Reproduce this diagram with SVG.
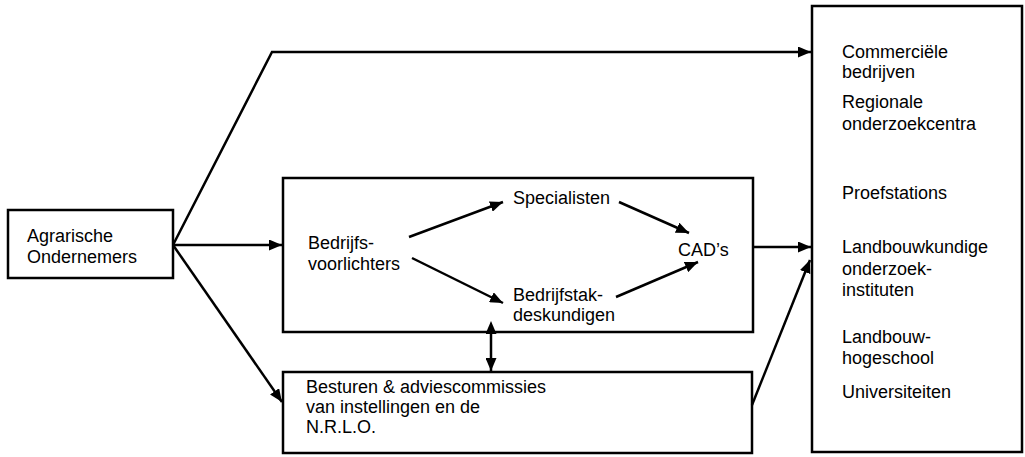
<svg xmlns="http://www.w3.org/2000/svg" width="1025" height="457" viewBox="0 0 1025 457">
<defs>
<marker id="ah" viewBox="0 0 13 11" refX="13" refY="5.5" markerWidth="13" markerHeight="11" markerUnits="userSpaceOnUse" orient="auto">
<path d="M0,0 L13,5.5 L0,11 z" fill="#000"/>
</marker>
<marker id="ahs" viewBox="0 0 13 11" refX="0" refY="5.5" markerWidth="13" markerHeight="11" markerUnits="userSpaceOnUse" orient="auto-start-reverse">
<path d="M0,0 L13,5.5 L0,11 z" fill="#000"/>
</marker>
</defs>
<style>
.box{fill:#fff;stroke:#000;stroke-width:2.5}
.t{font-family:"Liberation Sans",Arial,sans-serif;font-size:18px;fill:#000}
.c{fill:none;stroke:#000;stroke-width:2.5}
</style>
<rect width="1025" height="457" fill="#fff"/>
<g id="agrarische">
<rect class="box" x="8" y="210" width="165" height="68"/>
<text class="t" x="27" y="242">Agrarische</text>
<text class="t" x="27" y="263">Ondernemers</text>
</g>
<g id="voorlichting">
<rect class="box" x="283" y="178" width="470" height="154"/>
<text class="t" x="308" y="249">Bedrijfs-</text>
<text class="t" x="308" y="270">voorlichters</text>
</g>
<g id="specialisten"><text class="t" x="513" y="204">Specialisten</text></g>
<g id="bedrijfstak">
<text class="t" x="513" y="301">Bedrijfstak-</text>
<text class="t" x="513" y="321">deskundigen</text>
</g>
<g id="cads"><text class="t" x="678" y="256">CAD’s</text></g>
<g id="besturen">
<rect class="box" x="283" y="372" width="469" height="81"/>
<text class="t" x="306" y="393">Besturen &amp; adviescommissies</text>
<text class="t" x="306" y="413">van instellingen en de</text>
<text class="t" x="306" y="433">N.R.L.O.</text>
</g>
<g id="onderzoek">
<rect class="box" x="812" y="6" width="210" height="446"/>
<text class="t" x="842" y="58">Commerciële</text>
<text class="t" x="842" y="78">bedrijven</text>
<text class="t" x="842" y="108">Regionale</text>
<text class="t" x="842" y="130">onderzoekcentra</text>
<text class="t" x="842" y="199">Proefstations</text>
<text class="t" x="842" y="253">Landbouwkundige</text>
<text class="t" x="842" y="275">onderzoek-</text>
<text class="t" x="842" y="296">instituten</text>
<text class="t" x="842" y="343">Landbouw-</text>
<text class="t" x="842" y="364">hogeschool</text>
<text class="t" x="842" y="398">Universiteiten</text>
</g>
<g id="connectors">
<polyline class="c" points="173,245 272,52 811,52" marker-end="url(#ah)"/>
<line class="c" x1="173" y1="245" x2="282" y2="245" marker-end="url(#ah)"/>
<line class="c" x1="173" y1="245" x2="282" y2="402" marker-end="url(#ah)"/>
<line class="c" x1="409" y1="237" x2="503" y2="202" marker-end="url(#ah)"/>
<line class="c" x1="412" y1="258" x2="503" y2="303" marker-end="url(#ah)"/>
<line class="c" x1="619" y1="202" x2="689" y2="233" marker-end="url(#ah)"/>
<line class="c" x1="616" y1="297" x2="698" y2="262" marker-end="url(#ah)"/>
<line class="c" x1="753" y1="247" x2="811" y2="247" marker-end="url(#ah)"/>
<line class="c" x1="752" y1="405" x2="810" y2="260" marker-end="url(#ah)"/>
<line class="c" x1="491" y1="334" x2="491" y2="371" marker-start="url(#ahs)" marker-end="url(#ah)"/>
</g>
</svg>
